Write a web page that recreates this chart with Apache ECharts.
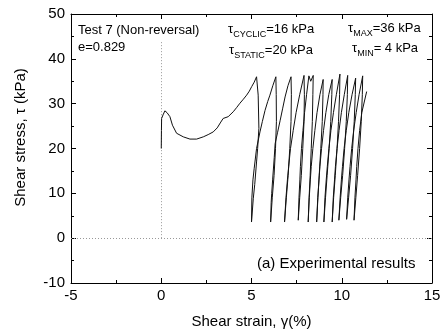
<!DOCTYPE html>
<html>
<head>
<meta charset="utf-8">
<script src="https://cdn.jsdelivr.net/npm/echarts@6/dist/echarts.min.js"></script>
<style>html,body{margin:0;padding:0;background:#fff;}#c{width:444px;height:334px;}</style>
</head>
<body>
<div id="c"></div>
<script>
// Monotonic (first loading) branch
const monoStrain = [0.00, 0.01, 0.02, 0.10, 0.20, 0.32, 0.48, 0.62, 0.85, 1.22, 1.59, 1.96, 2.33, 2.60, 2.88, 3.10, 3.30, 3.43, 3.71, 3.99, 4.17, 4.36, 4.55, 4.73, 4.88, 5.01, 5.15, 5.28];
const monoStress = [20.0, 24.0, 26.7, 27.5, 28.4, 28.0, 27.1, 25.2, 23.4, 22.6, 22.1, 22.1, 22.6, 23.1, 23.7, 24.6, 25.9, 26.7, 27.1, 28.2, 29.1, 30.1, 31.0, 31.9, 32.8, 33.8, 34.8, 36.0];
// Cyclic branch (unload / reload loops)
const cycStrain = [
  5.37, 5.41, 5.34, 5.28, 5.18, 5.10, 5.00,
  5.02, 5.08, 5.15, 5.28, 5.47, 5.60, 5.75, 5.90, 6.02, 6.18, 6.35,
  6.37, 6.38, 6.33, 6.25, 6.15, 6.06,
  6.09, 6.12, 6.17, 6.21, 6.26, 6.31, 6.44, 6.59, 6.73, 6.86, 7.02, 7.19,
  7.21, 7.19, 7.12, 7.03, 6.93, 6.83,
  6.91, 6.99, 7.06, 7.16, 7.31, 7.47, 7.67, 7.91,
  7.93, 7.91, 7.84, 7.76, 7.67, 7.59,
  7.63, 7.68, 7.71, 7.77, 7.85, 7.94, 8.05, 8.18, 8.28, 8.42,
  8.40, 8.37, 8.31, 8.25, 8.19, 8.14,
  8.20, 8.26, 8.31, 8.40, 8.51, 8.63, 8.79, 8.97,
  8.96, 8.92, 8.84, 8.75, 8.68, 8.61,
  8.67, 8.74, 8.79, 8.88, 8.99, 9.12, 9.28, 9.47,
  9.45, 9.39, 9.30, 9.19, 9.10, 9.01,
  9.07, 9.14, 9.20, 9.29, 9.40, 9.54, 9.70, 9.90,
  9.88, 9.82, 9.74, 9.64, 9.55, 9.47,
  9.53, 9.60, 9.65, 9.74, 9.85, 9.98, 10.14, 10.33,
  10.31, 10.25, 10.16, 10.05, 9.94, 9.84,
  9.91, 9.98, 10.04, 10.13, 10.25, 10.39, 10.57, 10.77,
  10.75, 10.69, 10.60, 10.49, 10.38, 10.27,
  10.33, 10.40, 10.46, 10.55, 10.66, 10.80, 10.96, 11.16,
  11.14, 11.08, 10.99, 10.88, 10.78, 10.68,
  10.73, 10.79, 10.83, 10.90, 10.99, 11.11, 11.38
];
const cycStress = [
  31.9, 24.5, 20.0, 17.0, 12.0, 8.9, 3.6,
  9.0, 13.0, 15.6, 20.0, 23.7, 26.0, 28.5, 30.5, 31.9, 34.0, 36.0,
  32.0, 26.0, 20.0, 14.0, 9.0, 3.6,
  8.0, 10.0, 13.0, 15.2, 18.0, 21.1, 23.5, 26.3, 29.0, 31.5, 34.0, 36.0,
  32.0, 26.0, 20.0, 14.0, 9.0, 3.6,
  9.0, 13.0, 16.0, 20.0, 24.0, 28.0, 32.0, 36.3,
  32.0, 26.0, 20.0, 14.0, 9.0, 4.0,
  9.0, 13.0, 16.0, 20.0, 24.0, 28.0, 32.0, 36.2, 35.0, 36.3,
  32.0, 26.0, 20.0, 14.0, 9.0, 3.6,
  9.0, 13.0, 16.0, 20.0, 24.0, 28.0, 32.0, 35.4,
  32.0, 26.0, 20.0, 14.0, 9.0, 3.6,
  9.0, 13.0, 16.0, 20.0, 24.0, 28.0, 32.0, 35.4,
  32.0, 26.0, 20.0, 14.0, 9.0, 3.6,
  9.0, 13.0, 16.0, 20.0, 24.0, 28.0, 32.0, 36.6,
  32.0, 26.0, 20.0, 14.0, 9.0, 3.6,
  9.0, 13.0, 16.0, 20.0, 24.0, 28.0, 32.0, 36.3,
  32.0, 26.0, 20.0, 14.0, 9.0, 4.0,
  9.0, 13.0, 16.0, 20.0, 24.0, 28.0, 32.0, 35.7,
  32.0, 26.0, 20.0, 14.0, 9.0, 4.2,
  9.0, 13.0, 16.0, 20.0, 24.0, 28.0, 32.0, 36.2,
  32.0, 26.0, 20.0, 14.0, 9.0, 4.0,
  9.0, 13.0, 16.0, 20.0, 24.0, 28.0, 32.7
];
const xTicks = { min: -5, max: 15, step: 5 };
const yTicks = { min: -10, max: 50, step: 10 };
const zeroLineTop = 44; // vertical reference line extent (kPa)

const FONT = '"Liberation Sans", Arial, sans-serif';
const pathData = monoStrain.map((x, i) => [x, monoStress[i]])
  .concat(cycStrain.map((x, i) => [x, cycStress[i]]));

const axisCommon = {
  type: 'value',
  axisLine: { show: true, onZero: false, lineStyle: { color: '#000', width: 1 } },
  axisTick: { show: true, inside: true, length: 5, lineStyle: { color: '#000', width: 1 } },
  minorTick: { show: true, splitNumber: 2, length: 3, lineStyle: { color: '#000', width: 1 } },
  splitLine: { show: false },
  minorSplitLine: { show: false }
};

const subRich = {
  t: { fontSize: 13, fontFamily: FONT, lineHeight: 20, fill: '#000' },
  s: { fontSize: 9, fontFamily: FONT, lineHeight: 10, verticalAlign: 'bottom', fill: '#000' }
};

const chart = echarts.init(document.getElementById('c'), null, { renderer: 'canvas' });
chart.setOption({
  animation: false,
  backgroundColor: '#fff',
  grid: { left: 71, right: 12, top: 14, bottom: 51, containLabel: false },
  xAxis: [
    Object.assign({}, axisCommon, {
      position: 'bottom', min: xTicks.min, max: xTicks.max, interval: xTicks.step,
      axisLabel: { color: '#000', fontSize: 15, fontFamily: FONT, margin: 5 },
      name: 'Shear strain, γ(%)', nameLocation: 'middle', nameGap: 31,
      nameTextStyle: { color: '#000', fontSize: 15, fontFamily: FONT }
    }),
    Object.assign({}, axisCommon, {
      position: 'top', min: xTicks.min, max: xTicks.max, interval: xTicks.step,
      axisLabel: { show: false }
    })
  ],
  yAxis: [
    Object.assign({}, axisCommon, {
      position: 'left', min: yTicks.min, max: yTicks.max, interval: yTicks.step,
      axisLabel: { color: '#000', fontSize: 15, fontFamily: FONT, margin: 6 },
      name: 'Shear stress, τ (kPa)', nameLocation: 'middle', nameGap: 43,
      nameTextStyle: { color: '#000', fontSize: 15, fontFamily: FONT, padding: [0, 0, 0, 22] }
    }),
    Object.assign({}, axisCommon, {
      position: 'right', min: yTicks.min, max: yTicks.max, interval: yTicks.step,
      axisLabel: { show: false }
    })
  ],
  series: [
    {
      type: 'line',
      xAxisIndex: 0, yAxisIndex: 0,
      data: pathData,
      showSymbol: false,
      symbol: 'none',
      lineStyle: { color: '#111', width: 1 },
      z: 5,
      markLine: {
        silent: true,
        symbol: 'none',
        label: { show: false },
        lineStyle: { color: '#999', type: [1, 2], width: 1 },
        data: [
          [{ coord: [0, 0] }, { coord: [0, zeroLineTop] }],
          [{ coord: [xTicks.min, 0] }, { coord: [xTicks.max, 0] }]
        ]
      }
    }
  ],
  graphic: [
    { type: 'text', x: 78, y: 30, style: { text: 'Test 7 (Non-reversal)', fill: '#000', font: '13px ' + FONT, verticalAlign: 'middle' } },
    { type: 'text', x: 78, y: 47, style: { text: 'e=0.829', fill: '#000', font: '13px ' + FONT, verticalAlign: 'middle' } },
    { type: 'text', x: 228, y: 29, style: { text: '{t|τ}{s|CYCLIC}{t|=16 kPa}', verticalAlign: 'middle', fill: '#000', rich: subRich } },
    { type: 'text', x: 229, y: 50, style: { text: '{t|τ}{s|STATIC}{t|=20 kPa}', verticalAlign: 'middle', fill: '#000', rich: subRich } },
    { type: 'text', x: 348, y: 28, style: { text: '{t|τ}{s|MAX}{t|=36 kPa}', verticalAlign: 'middle', fill: '#000', rich: subRich } },
    { type: 'text', x: 352, y: 48.5, style: { text: '{t|τ}{s|MIN}{t|= 4 kPa}', verticalAlign: 'middle', fill: '#000', rich: subRich } },
    { type: 'text', x: 257, y: 264, style: { text: '(a) Experimental results', fill: '#000', font: '15px ' + FONT, verticalAlign: 'middle' } }
  ]
});
</script>
</body>
</html>
